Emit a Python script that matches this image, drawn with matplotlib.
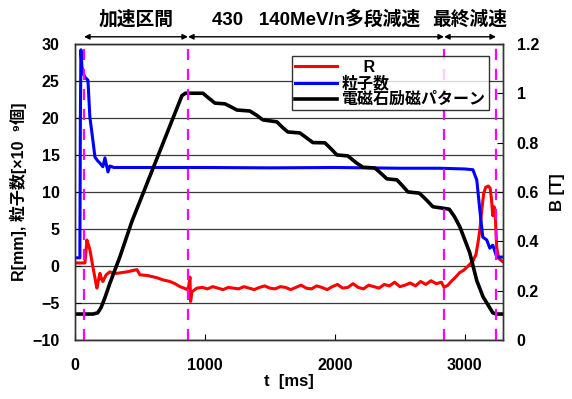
import matplotlib
matplotlib.use('Agg')
import matplotlib.pyplot as plt

plt.rcParams['font.family'] = ['Liberation Sans', 'Noto Sans CJK JP', 'DejaVu Sans']
plt.rcParams['font.weight'] = 'bold'

#---------------------------- dados ----------------------------

#粒子数 (eixo esquerdo)
t_n = [0, 38, 42, 46, 54, 62, 77, 100, 115, 138, 154, 175, 192, 215, 231, 254, 269, 300,
       600, 1000, 1500, 2000, 2500, 2800, 3000, 3062, 3092, 3115, 3138, 3169, 3192, 3215,
       3246, 3290]
n_val = [1.1, 1.1, 20.0, 29.2, 26.9, 26.1, 25.5, 25.1, 20.1, 17.0, 14.7, 14.2, 13.9, 13.4,
         14.6, 12.7, 13.5, 13.3, 13.3, 13.3, 13.25, 13.3, 13.2, 13.2, 13.1, 13.0, 11.6, 7.6,
         3.9, 3.5, 2.4, 2.8, 1.2, 1.2]

# R [mm] (eixo esquerdo)
t_r = [0, 77, 85, 92, 105, 115, 138, 160, 169, 180, 192, 205, 215, 240, 269, 300, 323,
       400, 477, 500, 560, 631, 680, 731, 770, 808, 840, 862, 875, 885, 890, 900, 938,
       980, 1020, 1060, 1100, 1140, 1180, 1220, 1260, 1300, 1340, 1380, 1420, 1460, 1500,
       1540, 1580, 1620, 1660, 1700, 1740, 1780, 1820, 1860, 1900, 1940, 1980, 2020, 2060,
       2100, 2140, 2180, 2220, 2260, 2300, 2340, 2380, 2420, 2460, 2500, 2540, 2580, 2620,
       2660, 2700, 2740, 2780, 2820, 2840, 2870, 2900, 2930, 2960, 2990, 3020, 3060, 3085,
       3100, 3115, 3130, 3145, 3160, 3180, 3195, 3205, 3215, 3225, 3235, 3245, 3260, 3290]
r_val = [0.4, 0.4, 2.0, 3.5, 2.8, 2.2, -0.1, -2.2, -3.0, -2.0, -1.0, -1.8, -2.1, -1.2, -0.8,
         -1.0, -1.0, -0.8, -0.5, -1.2, -1.3, -1.6, -1.9, -2.1, -2.4, -2.8, -3.0, -3.2, -2.8,
         -1.5, -4.8, -3.5, -3.0,
         -2.9, -3.1, -2.8, -3.0, -3.2, -2.9, -3.0, -3.1, -2.8, -3.0, -3.2, -2.9, -2.7, -3.0,
         -3.1, -2.8, -2.9, -3.2, -2.9, -2.6, -3.0, -3.1, -2.7, -2.9, -3.2, -2.8, -2.5, -3.0,
         -2.9, -2.4, -2.9, -3.1, -2.6, -2.8, -3.0, -2.5, -2.7, -2.2, -2.8, -2.6, -2.3, -2.7,
         -2.1, -2.5, -2.0, -2.4, -2.2, -2.9, -2.6, -2.0, -1.5, -0.9, -0.6, -0.1, 0.6, 1.5,
         3.0, 4.8, 7.5, 9.8, 10.6, 10.8, 10.5, 9.0, 6.8, 8.0, 6.5, 2.5, 1.0, 0.6]

# B [T] (eixo direito) - padrao de excitacao
t_b = [0, 140, 175, 200, 230, 269, 346, 438, 823, 850, 985, 1030, 1077, 1154, 1200, 1246,
       1346, 1400, 1446, 1554, 1600, 1638, 1731, 1780, 1831, 1923, 1970, 2015, 2100, 2160,
       2215, 2308, 2355, 2400, 2477, 2520, 2562, 2650, 2700, 2754, 2880, 2920, 2962, 3038,
       3092, 3140, 3169, 3215, 3240, 3290]
b_val = [0.105, 0.105, 0.11, 0.13, 0.17, 0.23, 0.337, 0.48, 0.99, 1.0, 1.0, 0.98, 0.96,
         0.957, 0.945, 0.932, 0.928, 0.91, 0.892, 0.884, 0.86, 0.843, 0.839, 0.82, 0.80,
         0.799, 0.775, 0.75, 0.746, 0.72, 0.70, 0.697, 0.675, 0.653, 0.649, 0.625, 0.60,
         0.595, 0.57, 0.54, 0.53, 0.50, 0.458, 0.353, 0.24, 0.175, 0.15, 0.11, 0.105, 0.105]

# linhas tracejadas e intervalos
t_marcas = [70, 870, 2840, 3240]
intervalos = ['加速区間', '430   140MeV/n多段減速', '最終減速']

#-------------------------------- Plotando grafico --------------------------------

fig = plt.figure(figsize=(5.72, 3.99), dpi=100)
ax1 = fig.add_axes([0.131, 0.148, 0.748, 0.742])
ax2 = ax1.twinx()

ax1.set_xlim(0, 3292)
ax1.set_ylim(-10, 30)
ax2.set_ylim(0, 1.2)
ax1.set_yticks(range(-10, 31, 5))
ax2.set_yticks([0, 0.2, 0.4, 0.6, 0.8, 1.0, 1.2])
ax2.set_yticklabels(['0', '0.2', '0.4', '0.6', '0.8', '1', '1.2'])
ax1.set_xticks([0, 1000, 2000, 3000])

ax1.grid(axis='y', color='#3a3a3a', lw=0.9)
ax1.set_axisbelow(True)

l1, = ax1.plot(t_r, r_val, color='#ff0000', lw=2.2, label='     R')
l2, = ax1.plot(t_n, n_val, color='#0000ff', lw=2.2, label='粒子数')
l3, = ax2.plot(t_b, b_val, color='black', lw=2.6, label='電磁石励磁パターン')

for t in t_marcas:
    ax2.axvline(t, color='#ff00ff', lw=1.6, ls=(0, (5, 4)))

for ax in (ax1, ax2):
    ax.tick_params(direction='in', labelsize=11.5, length=4, width=0.8)
    for s in ax.spines.values():
        s.set_linewidth(1.0)
        s.set_color('#333333')
ax1.tick_params(axis='x', pad=13)
ax1.tick_params(axis='y', pad=11)
ax2.tick_params(axis='y', pad=10)

ax1.set_xlabel('t  [ms]', fontsize=12, fontweight='bold', labelpad=1)
ax1.set_ylabel('R[mm], 粒子数[×10  ⁹個]', fontsize=11.5, fontweight='bold', labelpad=4)
ax2.set_ylabel('B [T]', fontsize=12, fontweight='bold', labelpad=8)

leg = ax2.legend(handles=[l1, l2, l3], loc='upper left', bbox_to_anchor=(0.507, 0.958),
                 fontsize=11.5, frameon=True, fancybox=False, edgecolor='black',
                 handlelength=2.6, borderpad=0.2, labelspacing=0.05, handletextpad=0.3,
                 borderaxespad=0)
leg.get_frame().set_linewidth(1.0)

# setas dos intervalos acima do grafico
for i, nome in enumerate(intervalos):
    a, b = t_marcas[i], t_marcas[i + 1]
    ax1.annotate('', xy=(b, 1.024), xytext=(a, 1.024), xycoords=('data', 'axes fraction'),
                 textcoords=('data', 'axes fraction'), annotation_clip=False,
                 arrowprops=dict(arrowstyle='<|-|>', lw=1.0, color='black',
                                 mutation_scale=8, shrinkA=0, shrinkB=0))
    ax1.text((a + b) / 2, 1.081, nome, transform=ax1.get_xaxis_transform(),
             ha='center', va='center', fontsize=13.5, fontweight='bold')

fig.savefig('out.png', dpi=100)
